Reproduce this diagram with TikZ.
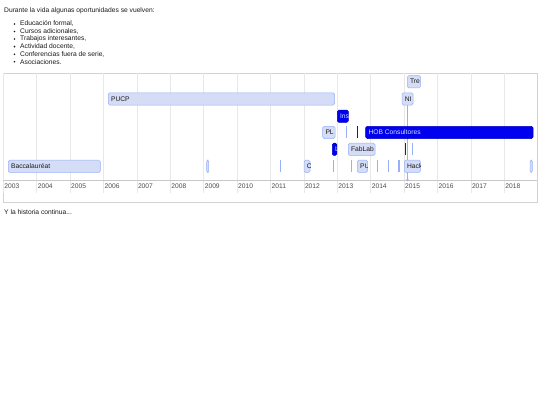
\documentclass[tikz,border=0pt]{standalone}
\usepackage{fontspec}
\setmainfont{Liberation Sans}

\definecolor{itemfill}{HTML}{D5DDF6}
\definecolor{itemborder}{HTML}{97B0F8}
\definecolor{itemdark}{HTML}{0000F0}
\definecolor{itemnavy}{HTML}{1A1A80}
\definecolor{gridgray}{HTML}{E8E8E8}
\definecolor{axisgray}{HTML}{C8C8C8}
\definecolor{yeargray}{HTML}{4D4D4D}
\definecolor{inktext}{HTML}{1A1A1A}

% one range item of the timeline: name, start, end, row, light/dark, label
\newcommand{\tlitem}[6]{%
  \node[#5box, minimum width={(#3-#2)*1pt}] (#1) at ({(#2+#3)/2},#4) {};
  \begin{scope}
    \clip (#1.south west) rectangle (#1.north east);
    \node[#5label] (#1-txt) at ([xshift=2.6pt]#1.west) {#6};
  \end{scope}
}
% a very short item: only its border shows
\newcommand{\tltick}[3]{%
  \fill[#3] ({#1-0.55},{#2-6}) rectangle ({#1+0.55},{#2+6});
}

\begin{document}
\begin{tikzpicture}[x=1pt, y=-1pt,
    every node/.style={font=\fontsize{6.7}{8}\selectfont, text=inktext},
    lightbox/.style={draw=itemborder, fill=itemfill, rounded corners=1.5pt,
      minimum height=12.3pt, inner sep=0pt, outer sep=0pt, line width=0.5pt},
    darkbox/.style={lightbox, draw=itemdark!80!black, fill=itemdark},
    lightlabel/.style={anchor=west, inner sep=0pt, text=inktext},
    darklabel/.style={anchor=west, inner sep=0pt, text=itemfill},
    gridline/.style={draw=gridgray, line width=0.5pt}]

  \useasboundingbox[fill=white] (0,0) rectangle (540,405);

  % ==================================================
  % Text above the timeline
  % ==================================================
  \node[anchor=west, inner sep=0pt] (intro) at (4,11)
    {Durante la vida algunas oportunidades se vuelven:};
  \foreach \txt [count=\i] in {{Educación formal,}, {Cursos adicionales,},
      {Trabajos interesantes,}, {Actividad docente,},
      {Conferencias fuera de serie,}, {Asociaciones.}} {
    \fill[inktext] (14.5,{16.4+\i*7.55}) circle (0.9pt);
    \node[anchor=west, inner sep=0pt] (list\i) at (20,{16.4+\i*7.55}) {\txt};
  }

  % ==================================================
  % Frame, grid and time axis
  % ==================================================
  \draw[axisgray!80] (3,73) rectangle (537,202);
  \foreach \yr in {2003,...,2018} {
    \draw[gridline] ({3.3+(\yr-2003)*33.4},73) -- ({3.3+(\yr-2003)*33.4},193);
    \node[anchor=west, inner sep=0pt, text=yeargray] (yr\yr)
      at ({4.2+(\yr-2003)*33.4},186) {\yr};
  }
  \coordinate (axisleft) at (3,180);
  \draw[axisgray] (axisleft) -- (537,180);

  % ==================================================
  % Items, row by row
  % ==================================================
  % -- NI is a box item: line down to a dot on the axis (behind the rest)
  \tlitem{ni}{402}{413}{98.9}{light}{NI}
  \coordinate (nidot) at (ni.south |- axisleft);
  \draw[itemborder, line width=0.7pt] (ni.south) -- (nidot);
  \fill[itemborder] (nidot) circle (1.4pt);
  % -- row 1
  \tlitem{tre}{407.3}{420.5}{81.7}{light}{Tre}
  % -- row 2
  \tlitem{pucp}{108.3}{334.5}{98.9}{light}{PUCP}
  % -- row 3
  \tlitem{ins}{337.3}{348.3}{116.2}{dark}{Ins}
  % -- row 4
  \tlitem{pl}{322.7}{335}{132.4}{light}{PL}
  \tltick{346.8}{132.4}{itemborder}
  \tltick{357.3}{132.4}{itemnavy}
  \tlitem{hob}{365.7}{533}{132.4}{dark}{HOB Consultores}
  % -- row 5
  \tlitem{l}{332.3}{336.9}{149.3}{dark}{L}
  \tlitem{fablab}{348.3}{375}{149.3}{light}{FabLab}
  \tltick{405.3}{149.3}{itemnavy}
  \tltick{412.3}{149.3}{itemborder}
  % -- row 6
  \tlitem{bac}{8.3}{100.3}{166.3}{light}{Baccalauréat}
  \tlitem{blip}{206.7}{208.7}{166.3}{light}{}
  \tltick{280.2}{166.3}{itemborder}
  \tlitem{c}{304}{310}{166.3}{light}{C}
  \tltick{333.3}{166.3}{itemborder}
  \tltick{351.7}{166.3}{itemborder}
  \tlitem{pu}{357.3}{367.6}{166.3}{light}{PU}
  \tltick{377.7}{166.3}{itemborder}
  \tltick{388.7}{166.3}{itemborder}
  \tltick{399}{166.3}{itemborder}
  \tlitem{hack}{404.3}{420.3}{166.3}{light}{Hack}
  \tlitem{last}{530}{532.4}{166.3}{light}{}

  % ==================================================
  % Text below the timeline
  % ==================================================
  \node[anchor=west, inner sep=0pt] (outro) at (4,212.5) {Y la historia continua...};

\end{tikzpicture}
\end{document}
